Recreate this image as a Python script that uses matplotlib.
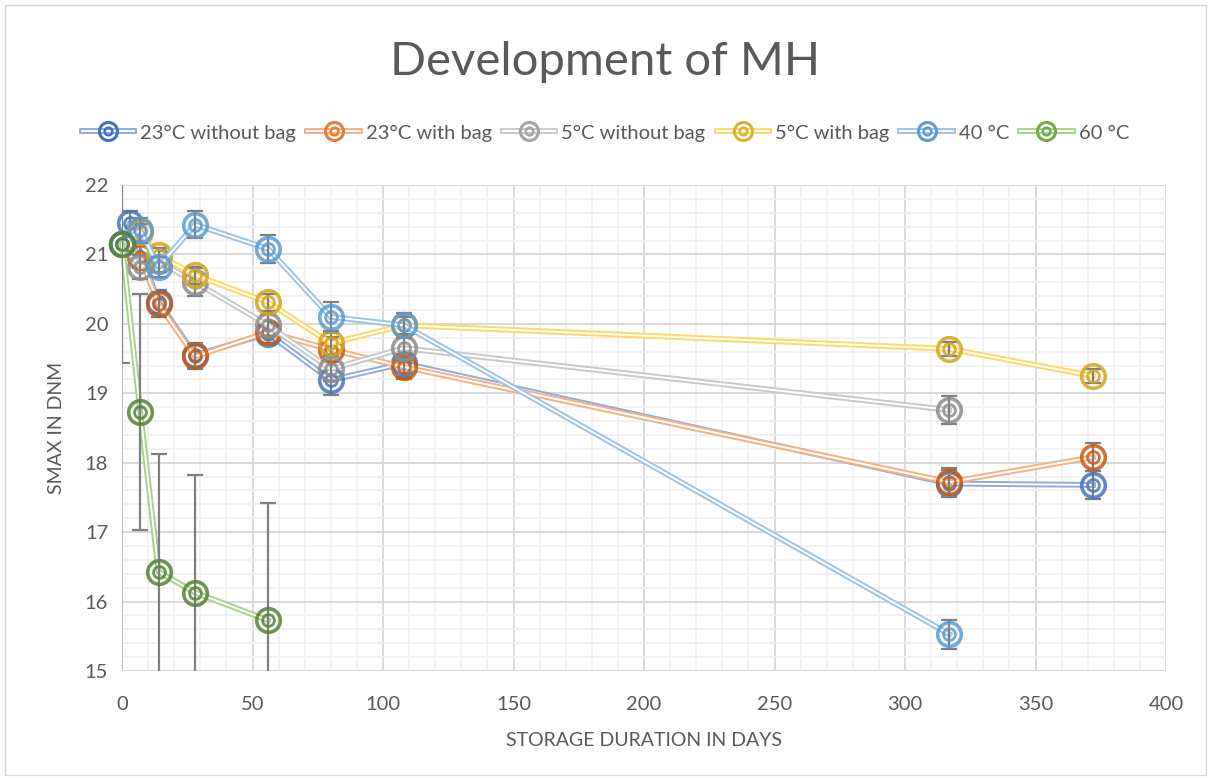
import numpy as np
import matplotlib.pyplot as plt
from matplotlib.lines import Line2D
from matplotlib.patches import Rectangle
from matplotlib.ticker import MultipleLocator

plt.rcParams['font.family'] = ['Lato', 'DejaVu Sans']

labels = ['23°C without bag', '23°C with bag', '5°C without bag', '5°C with bag', '40 °C', '60 °C']
line_colors = ['#8FAADC', '#F4B183', '#C9C9C9', '#FFD966', '#9DC3E6', '#A9D18E']
marker_colors = ['#4472C4', '#C55A11', '#8C8C8C', '#D4A520', '#5B9BD5', '#548235']
legend_colors = ['#4472C4', '#ED7D31', '#A5A5A5', '#DDB22C', '#5B9BD5', '#70AD47']

days_23_nobag = [0, 3, 14, 28, 56, 80, 108, 317, 372]
smax_23_nobag = [21.15, 21.45, 20.32, 19.55, 19.86, 19.19, 19.43, 17.70, 17.68]
err_23_nobag = [0.1, 0.17, 0.17, 0.18, 0.15, 0.21, 0.2, 0.2, 0.2]

days_23_bag = [0, 7, 14, 28, 56, 80, 108, 317, 372]
smax_23_bag = [21.15, 20.97, 20.28, 19.53, 19.88, 19.63, 19.38, 17.72, 18.08]
err_23_bag = [0.1, 0.17, 0.18, 0.18, 0.15, 0.18, 0.18, 0.2, 0.2]

days_5_nobag = [0, 7, 14, 28, 56, 80, 108, 317]
smax_5_nobag = [21.15, 20.82, 20.90, 20.60, 19.98, 19.35, 19.65, 18.76]
err_5_nobag = [0.1, 0.17, 0.15, 0.2, 0.15, 0.18, 0.18, 0.2]

days_5_bag = [0, 7, 14, 28, 56, 80, 108, 317, 372]
smax_5_bag = [21.15, 21.32, 20.99, 20.70, 20.31, 19.72, 19.98, 19.64, 19.25]
err_5_bag = [0.1, 0.12, 0.1, 0.12, 0.12, 0.15, 0.12, 0.1, 0.1]

days_40 = [0, 7, 14, 28, 56, 80, 108, 317]
smax_40 = [21.15, 21.35, 20.82, 21.43, 21.08, 20.10, 19.98, 15.53]
err_40 = [0.1, 0.18, 0.15, 0.19, 0.2, 0.21, 0.18, 0.21]

days_60 = [0, 7, 14, 28, 56]
smax_60 = [21.15, 18.73, 16.43, 16.13, 15.73]
err_60 = [1.71, 1.70, 1.70, 1.69, 1.69]

series = [
    (days_23_nobag, smax_23_nobag, err_23_nobag),
    (days_23_bag, smax_23_bag, err_23_bag),
    (days_5_nobag, smax_5_nobag, err_5_nobag),
    (days_5_bag, smax_5_bag, err_5_bag),
    (days_40, smax_40, err_40),
    (days_60, smax_60, err_60),
]

fig = plt.figure(figsize=(12.11, 7.78), dpi=100)
ax = fig.add_axes([122 / 1211, 1 - 671 / 778, (1166 - 122) / 1211, (671 - 185) / 778])

for i, (d, s, e) in enumerate(series):
    z = 3 + i * 4
    ax.plot(d, s, color=line_colors[i], lw=4.2, zorder=z, clip_on=False)
    ax.plot(d, s, color='white', lw=1.4, zorder=z + 0.1, clip_on=False)
    ax.errorbar(d, s, yerr=e, fmt='none', ecolor='#7F7F7F', elinewidth=1.6,
                capsize=6, capthick=1.6, zorder=z + 0.2)
    ax.plot(d, s, ls='none', marker='o', ms=17, mfc='none', mec=marker_colors[i],
            mew=2.6, alpha=0.85, zorder=z + 0.3, clip_on=False)
    ax.plot(d, s, ls='none', marker='o', ms=8.5, mfc='none', mec=marker_colors[i],
            mew=2.0, alpha=0.85, zorder=z + 0.4, clip_on=False)

ax.set_xlim(0, 400)
ax.set_ylim(15, 22)
ax.xaxis.set_major_locator(MultipleLocator(50))
ax.xaxis.set_minor_locator(MultipleLocator(10))
ax.yaxis.set_major_locator(MultipleLocator(1))
ax.yaxis.set_minor_locator(MultipleLocator(0.2))
ax.grid(which='major', color='#D9D9D9', lw=1.4, zorder=0)
ax.grid(which='minor', color='#F0F0F0', lw=1.2, zorder=0)
ax.set_axisbelow(True)
for sp in ax.spines.values():
    sp.set_visible(False)
ax.axhline(15, color='#D9D9D9', lw=1.4, zorder=1)
ax.axvline(0, color='#BFBFBF', lw=1.4, zorder=1)
ax.tick_params(which='both', length=0, labelsize=14.5, colors='#595959')
ax.tick_params(axis='x', pad=18)
ax.tick_params(axis='y', pad=10)

ax.set_xlabel('STORAGE DURATION IN DAYS', fontsize=14, color='#595959', labelpad=14)
ax.set_ylabel('SMAX IN DNM', fontsize=14, color='#595959', labelpad=14)

fig.text(0.5, 1 - 62 / 778, 'Development of MH', ha='center', va='center',
         fontsize=34, color='#595959')

handles = []
for i in range(6):
    h = (Line2D([], [], color=line_colors[i], lw=4.2),
         Line2D([], [], color='white', lw=1.4),
         Line2D([], [], ls='none', marker='o', ms=13, mfc='none', mec=legend_colors[i], mew=2.2),
         Line2D([], [], ls='none', marker='o', ms=5.5, mfc='none', mec=legend_colors[i], mew=1.8))
    handles.append(h)
fig.legend(handles, labels, loc='center', bbox_to_anchor=(0.5, 1 - 133 / 778), ncol=6,
           frameon=False, fontsize=14.5, handlelength=2.6, columnspacing=0.55,
           handletextpad=0.3, labelcolor='#595959')

fig.patches.append(Rectangle((0.004, 0.004), 0.992, 0.99, transform=fig.transFigure,
                             fill=False, ec='#D9D9D9', lw=1))

fig.savefig('out.png', dpi=100)
